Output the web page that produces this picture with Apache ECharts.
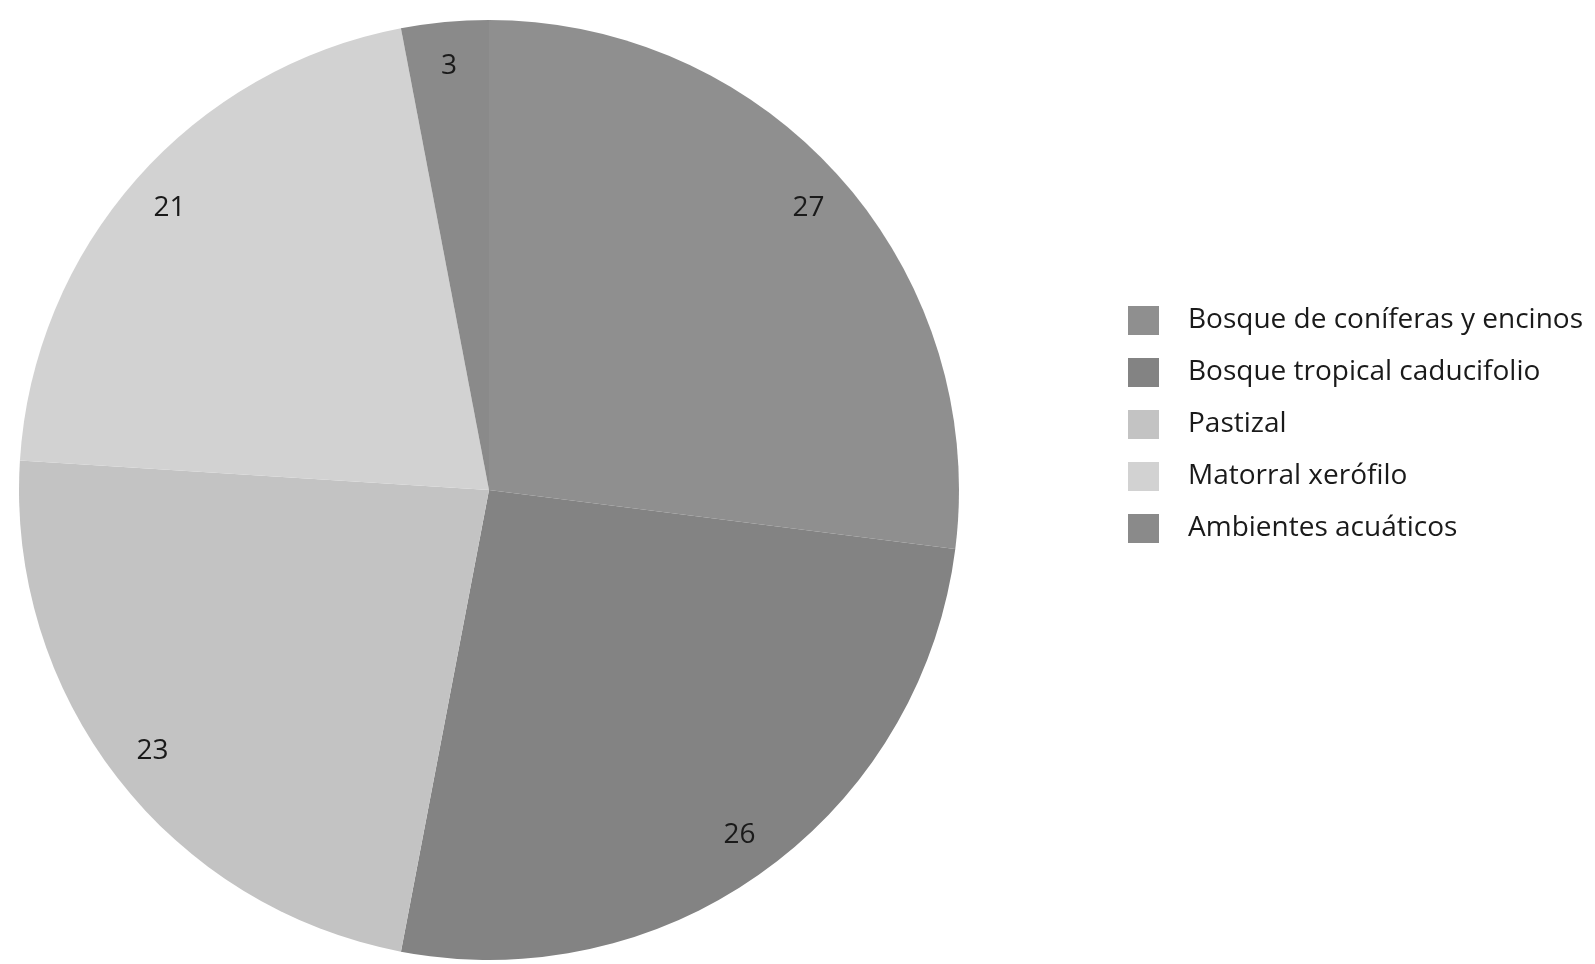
<!DOCTYPE html>
<html>
<head>
<meta charset="utf-8">
<script src="https://cdn.jsdelivr.net/npm/echarts@6/dist/echarts.min.js"></script>
<style>
html,body{margin:0;padding:0;background:#fff;}
#chart{width:1595px;height:964px;}
</style>
</head>
<body>
<div id="chart"></div>
<script>
const categories = ['Bosque de coníferas y encinos', 'Bosque tropical caducifolio', 'Pastizal', 'Matorral xerófilo', 'Ambientes acuáticos'];
const values = [27, 26, 23, 21, 3];
const colors = ['#8f8f8f', '#838383', '#c3c3c3', '#d2d2d2', '#8a8a8a'];

const FONT = '"Open Sans"';
const chart = echarts.init(document.getElementById('chart'));
const mainData = categories.map((c, i) => ({ name: c, value: values[i], itemStyle: { color: colors[i] } }));
const labelData = categories.map((c, i) => ({ name: c, value: values[i] }));

chart.setOption({
  backgroundColor: '#ffffff',
  animation: false,
  legend: {
    orient: 'vertical',
    left: 1128,
    top: 306,
    padding: 0,
    itemWidth: 31,
    itemHeight: 29,
    itemGap: 23,
    icon: 'rect',
    selectedMode: false,
    data: categories.map((c, i) => ({ name: c, itemStyle: { color: colors[i] } })),
    textStyle: { fontFamily: FONT, fontSize: 28, color: '#1a1a1a', padding: [0, 0, 0, 24] }
  },
  series: [
    {
      type: 'pie',
      center: [489, 490],
      radius: [0, 470],
      startAngle: 90,
      clockwise: true,
      label: { show: false },
      labelLine: { show: false },
      itemStyle: { borderWidth: 0 },
      emphasis: { disabled: true },
      silent: true,
      data: mainData
    },
    {
      type: 'pie',
      center: [489, 490],
      radius: [376, 470],
      startAngle: 90,
      clockwise: true,
      silent: true,
      emphasis: { disabled: true },
      itemStyle: { color: 'rgba(0,0,0,0)', borderWidth: 0 },
      label: { show: true, position: 'inside', formatter: '{c}', fontFamily: FONT, fontSize: 28, color: '#1a1a1a' },
      labelLine: { show: false },
      data: labelData
    }
  ]
});
</script>
</body>
</html>
